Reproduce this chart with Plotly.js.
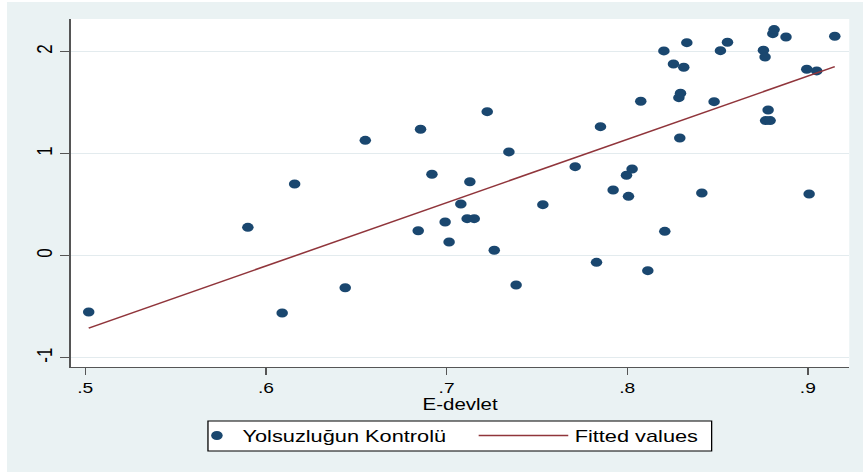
<!DOCTYPE html>
<html>
<head>
<meta charset="utf-8">
<script src="https://cdn.plot.ly/plotly-3.0.1.min.js"></script>
<style>
  html, body { margin: 0; padding: 0; background: #ffffff; width: 863px; height: 472px; overflow: hidden; }
  #chart { position: absolute; left: 7px; top: 2px; width: 669px; height: 470px;
           transform: scaleX(1.28); transform-origin: 0 0; }
</style>
</head>
<body>
<div id="chart"></div>
<script>
// E-devlet (x) and Yolsuzluğun Kontrolü (y)
var eDevlet = [0.5019, 0.590, 0.609, 0.6159, 0.6439, 0.655, 0.6843, 0.6856, 0.6919, 0.6992,
               0.7014, 0.7079, 0.7114, 0.7129, 0.7153, 0.7225, 0.7264, 0.7345, 0.7385, 0.7533,
               0.7712, 0.783, 0.7852, 0.7922, 0.7996, 0.8007, 0.8027, 0.8075, 0.8114, 0.8203,
               0.8208, 0.8256, 0.8286, 0.8291, 0.8295, 0.8313, 0.833, 0.8413, 0.8481, 0.8516,
               0.8555, 0.8754, 0.8763, 0.8766, 0.878, 0.8791, 0.8806, 0.8813, 0.8879, 0.8994,
               0.9007, 0.9049, 0.9149];
var yolsuzluk = [-0.552, 0.278, -0.562, 0.703, -0.314, 1.131, 0.245, 1.239, 0.798, 0.330,
                 0.134, 0.507, 0.363, 0.725, 0.363, 1.412, 0.053, 1.017, -0.287, 0.500,
                 0.873, -0.065, 1.265, 0.644, 0.788, 0.582, 0.850, 1.514, -0.147, 2.007,
                 0.239, 1.879, 1.549, 1.154, 1.592, 1.847, 2.088, 0.615, 1.510, 2.010,
                 2.092, 2.014, 1.948, 1.324, 1.428, 1.324, 2.176, 2.216, 2.144, 1.827,
                 0.605, 1.811, 2.151];
// Fitted values line (endpoints)
var fitX = [0.5019, 0.9149];
var fitY = [-0.710, 1.853];

var xTickVals = [0.5, 0.6, 0.7, 0.8, 0.9];
var xTickText = ['.5', '.6', '.7', '.8', '.9'];
var yTickVals = [-1, 0, 1, 2];
var yTickText = ['-1', '0', '1', '2'];

var traces = [
  {
    type: 'scatter', mode: 'markers', name: 'Yolsuzluğun Kontrolü',
    x: eDevlet, y: yolsuzluk, legend: 'legend',
    marker: { color: '#1a476f', size: 9, line: { width: 0 } }
  },
  {
    type: 'scatter', mode: 'lines', name: 'Fitted values',
    x: fitX, y: fitY, legend: 'legend2',
    line: { color: '#90353b', width: 1.5 }
  }
];

var legendFont = { size: 17, color: '#000000' };

var layout = {
  width: 669, height: 470,
  margin: { l: 50, r: 11, t: 17, b: 105 },
  paper_bgcolor: '#eaf2f3',
  plot_bgcolor: '#ffffff',
  font: { family: 'Liberation Sans, Arial, sans-serif', color: '#000000' },
  showlegend: true,
  xaxis: {
    range: [0.4921, 0.9229],
    tickvals: xTickVals, ticktext: xTickText,
    ticks: 'outside', ticklen: 7, tickwidth: 1, tickcolor: '#555555',
    showline: true, linecolor: '#555555', linewidth: 1.3,
    showgrid: false, zeroline: false,
    tickfont: { size: 15, color: '#000000' },
    title: { text: 'E-devlet', font: { size: 16, color: '#000000' }, standoff: 2 }
  },
  yaxis: {
    range: [-1.091, 2.32],
    tickvals: yTickVals, ticktext: yTickText,
    tickangle: -90,
    ticks: 'outside', ticklen: 7, tickwidth: 1.2, tickcolor: '#555555',
    showline: true, linecolor: '#555555', linewidth: 1.3,
    showgrid: true, gridcolor: '#e3ebee', gridwidth: 1.3, zeroline: false,
    tickfont: { size: 17, color: '#000000' }
  },
  // legend frame (white box with black border) holding both legend entries
  shapes: [{
    type: 'rect', xref: 'paper', yref: 'paper', layer: 'below',
    x0: 0.176, x1: 0.8232, y0: -0.2414, y1: -0.1552,
    fillcolor: '#ffffff', line: { color: '#000000', width: 1 }
  }],
  legend: {
    orientation: 'h',
    x: 0.1546, xanchor: 'left',
    y: -0.198, yanchor: 'middle',
    bgcolor: 'rgba(0,0,0,0)', borderwidth: 0,
    font: legendFont,
    itemwidth: 30
  },
  legend2: {
    orientation: 'h',
    x: 0.5156, xanchor: 'left',
    y: -0.198, yanchor: 'middle',
    bgcolor: 'rgba(0,0,0,0)', borderwidth: 0,
    font: legendFont,
    itemwidth: 70
  }
};

Plotly.newPlot('chart', traces, layout, { displayModeBar: false, staticPlot: true });
</script>
</body>
</html>
